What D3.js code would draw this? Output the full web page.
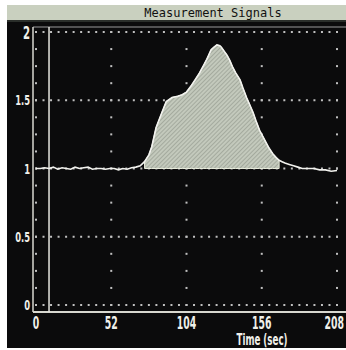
<!DOCTYPE html>
<html>
<head>
<meta charset="utf-8">
<script src="https://cdn.jsdelivr.net/npm/d3@7"></script>
<style>
  html, body { margin: 0; padding: 0; background: #fff; }
  svg { display: block; }
</style>
</head>
<body>
<div id="chart"></div>
<script>
// --- data ---
const title = "Measurement Signals";
const xLabel = "Time (sec)";
const xTicks = [0, 52, 104, 156, 208];
const yTicks = [0, 0.5, 1, 1.5, 2];
const yTickLabels = ["0", "0.5", "1", "1.5", "2"];
const markerTime = 9;          // solid vertical marker line
const fillStart = 75, fillEnd = 168;   // shaded region (above 1.0)

const signalTime = [0, 3, 6, 9, 12, 15, 18, 21, 24, 27, 30, 33, 36, 39, 42, 45, 48, 51, 54, 57,
  60, 63, 66, 69, 72, 75, 78, 80, 83, 87, 90, 94, 98, 101, 104, 107.5, 110, 113, 116, 118,
  121, 123, 125, 127, 128, 130, 132, 134, 136, 138, 141, 143, 145.5, 148, 150, 152, 154.5,
  157, 159, 161, 163.5, 166, 168, 170, 172, 175, 178, 181, 184, 188, 192, 196, 200, 204, 208];
const signalValue = [1.0, 1.0, 1.005, 1.0, 1.01, 0.995, 1.005, 1.0, 0.995, 1.01, 1.0, 1.005, 1.01, 0.995, 1.0, 1.0, 0.995, 1.0, 1.0, 0.99,
  1.0, 0.995, 1.005, 1.01, 1.02, 1.05, 1.1, 1.16, 1.30, 1.41, 1.49, 1.52, 1.53, 1.54, 1.56, 1.61, 1.65, 1.70, 1.76, 1.80,
  1.87, 1.89, 1.905, 1.90, 1.89, 1.86, 1.83, 1.79, 1.74, 1.70, 1.65, 1.59, 1.52, 1.46, 1.41, 1.35, 1.28,
  1.23, 1.19, 1.15, 1.11, 1.08, 1.06, 1.05, 1.04, 1.03, 1.02, 1.01, 1.0, 1.0, 1.0, 0.99, 0.99, 0.98, 0.985];

const W = 346, H = 350;
const frame = { left: 33, top: 27, bottom: 312, right: 346 };

const svg = d3.select("#chart").append("svg")
  .attr("width", W).attr("height", H);

// backgrounds
svg.append("rect").attr("width", W).attr("height", H).attr("fill", "#fff");
svg.append("rect").attr("x", 7).attr("y", 5).attr("width", W - 7).attr("height", 16).attr("fill", "#c9d0bf");
svg.append("rect").attr("x", 7).attr("y", 20).attr("width", W - 7).attr("height", 2).attr("fill", "#2a2e2a");
svg.append("rect").attr("x", 7).attr("y", 22).attr("width", W - 7).attr("height", 326).attr("fill", "#0b0b0c");

svg.append("text")
  .attr("x", 213).attr("y", 17)
  .attr("text-anchor", "middle")
  .style("font-family", "'DejaVu Sans Mono', monospace")
  .style("font-size", "12px")
  .attr("fill", "#111")
  .text(title);

// hatch for the shaded area
const defs = svg.append("defs");
const pat = defs.append("pattern")
  .attr("id", "hatch")
  .attr("patternUnits", "userSpaceOnUse")
  .attr("width", 3).attr("height", 3)
  .attr("patternTransform", "rotate(45)");
pat.append("rect").attr("width", 3).attr("height", 3).attr("fill", "#c3c9bc");
pat.append("line").attr("x1", 0).attr("y1", 0).attr("x2", 0).attr("y2", 3)
  .attr("stroke", "#858b80").attr("stroke-width", 1);

// scales
const x = d3.scaleLinear().domain([0, 208]).range([36, 337]);
const y = d3.scaleLinear().domain([0, 2]).range([305, 32]);

// dotted grid
const grid = svg.append("g").attr("fill", "#c0c0c0");
yTicks.forEach(v => {
  grid.selectAll(null)
    .data(d3.range(0, 208.01, 5.2))
    .enter().append("rect")
    .attr("x", d => x(d) - 1).attr("y", y(v) - 1)
    .attr("width", 2).attr("height", 2);
});
xTicks.forEach(t => {
  grid.selectAll(null)
    .data(d3.range(0, 2.001, 0.125))
    .enter().append("rect")
    .attr("x", x(t) - 1).attr("y", d => y(d) - 1)
    .attr("width", 2).attr("height", 2);
});

// frame
svg.append("line").attr("x1", frame.left).attr("x2", frame.right)
  .attr("y1", frame.top).attr("y2", frame.top)
  .attr("stroke", "#9a9a9a").attr("stroke-width", 1);
svg.append("line").attr("x1", frame.left).attr("x2", frame.left)
  .attr("y1", frame.top).attr("y2", frame.bottom)
  .attr("stroke", "#d8d8d0").attr("stroke-width", 1.5);
svg.append("line").attr("x1", frame.left).attr("x2", frame.right)
  .attr("y1", frame.bottom).attr("y2", frame.bottom)
  .attr("stroke", "#d8d8d0").attr("stroke-width", 2);
svg.append("line").attr("x1", x(markerTime)).attr("x2", x(markerTime))
  .attr("y1", frame.top).attr("y2", frame.bottom)
  .attr("stroke", "#e6e6e0").attr("stroke-width", 1.5);

// signal
const pts = signalTime.map((t, i) => ({ t: t, v: signalValue[i] }));
const shaded = pts.filter(d => d.t >= fillStart && d.t <= fillEnd);

const area = d3.area()
  .x(d => x(d.t))
  .y0(y(1))
  .y1(d => y(d.v));
svg.append("path")
  .datum(shaded)
  .attr("d", area)
  .attr("fill", "url(#hatch)")
  .attr("stroke", "#e8ecdc")
  .attr("stroke-width", 1);

const line = d3.line().x(d => x(d.t)).y(d => y(d.v));
svg.append("path")
  .datum(pts)
  .attr("d", line)
  .attr("fill", "none")
  .attr("stroke", "#f2f2ee")
  .attr("stroke-width", 1.6);

// tick labels (narrow, bold)
const labelFont = "'DejaVu Sans', sans-serif";
const lastTick = xTicks.length - 1;
svg.selectAll(".xlab")
  .data(xTicks)
  .enter().append("text")
  .attr("class", "xlab")
  .attr("transform", (d, i) => `translate(${i === lastTick ? 344 : x(d)},329) scale(0.55,1)`)
  .attr("text-anchor", (d, i) => i === lastTick ? "end" : "middle")
  .style("font-family", labelFont)
  .style("font-weight", "bold")
  .style("font-size", "17px")
  .attr("fill", "#f0f0ea")
  .text(d => d);

svg.selectAll(".ylab")
  .data(yTicks)
  .enter().append("text")
  .attr("class", "ylab")
  .attr("transform", (d, i) => `translate(30,${y(d) + (i === 4 ? 7 : 5)}) scale(0.6,1)`)
  .attr("text-anchor", "end")
  .style("font-family", labelFont)
  .style("font-weight", "bold")
  .style("font-size", (d, i) => i === 4 ? "17px" : "14px")
  .attr("fill", "#f0f0ea")
  .text((d, i) => yTickLabels[i]);

svg.append("text")
  .attr("transform", "translate(262,345) scale(0.58,1)")
  .attr("text-anchor", "middle")
  .style("font-family", labelFont)
  .style("font-weight", "bold")
  .style("font-size", "15px")
  .attr("fill", "#f0f0ea")
  .text(xLabel);
</script>
</body>
</html>
